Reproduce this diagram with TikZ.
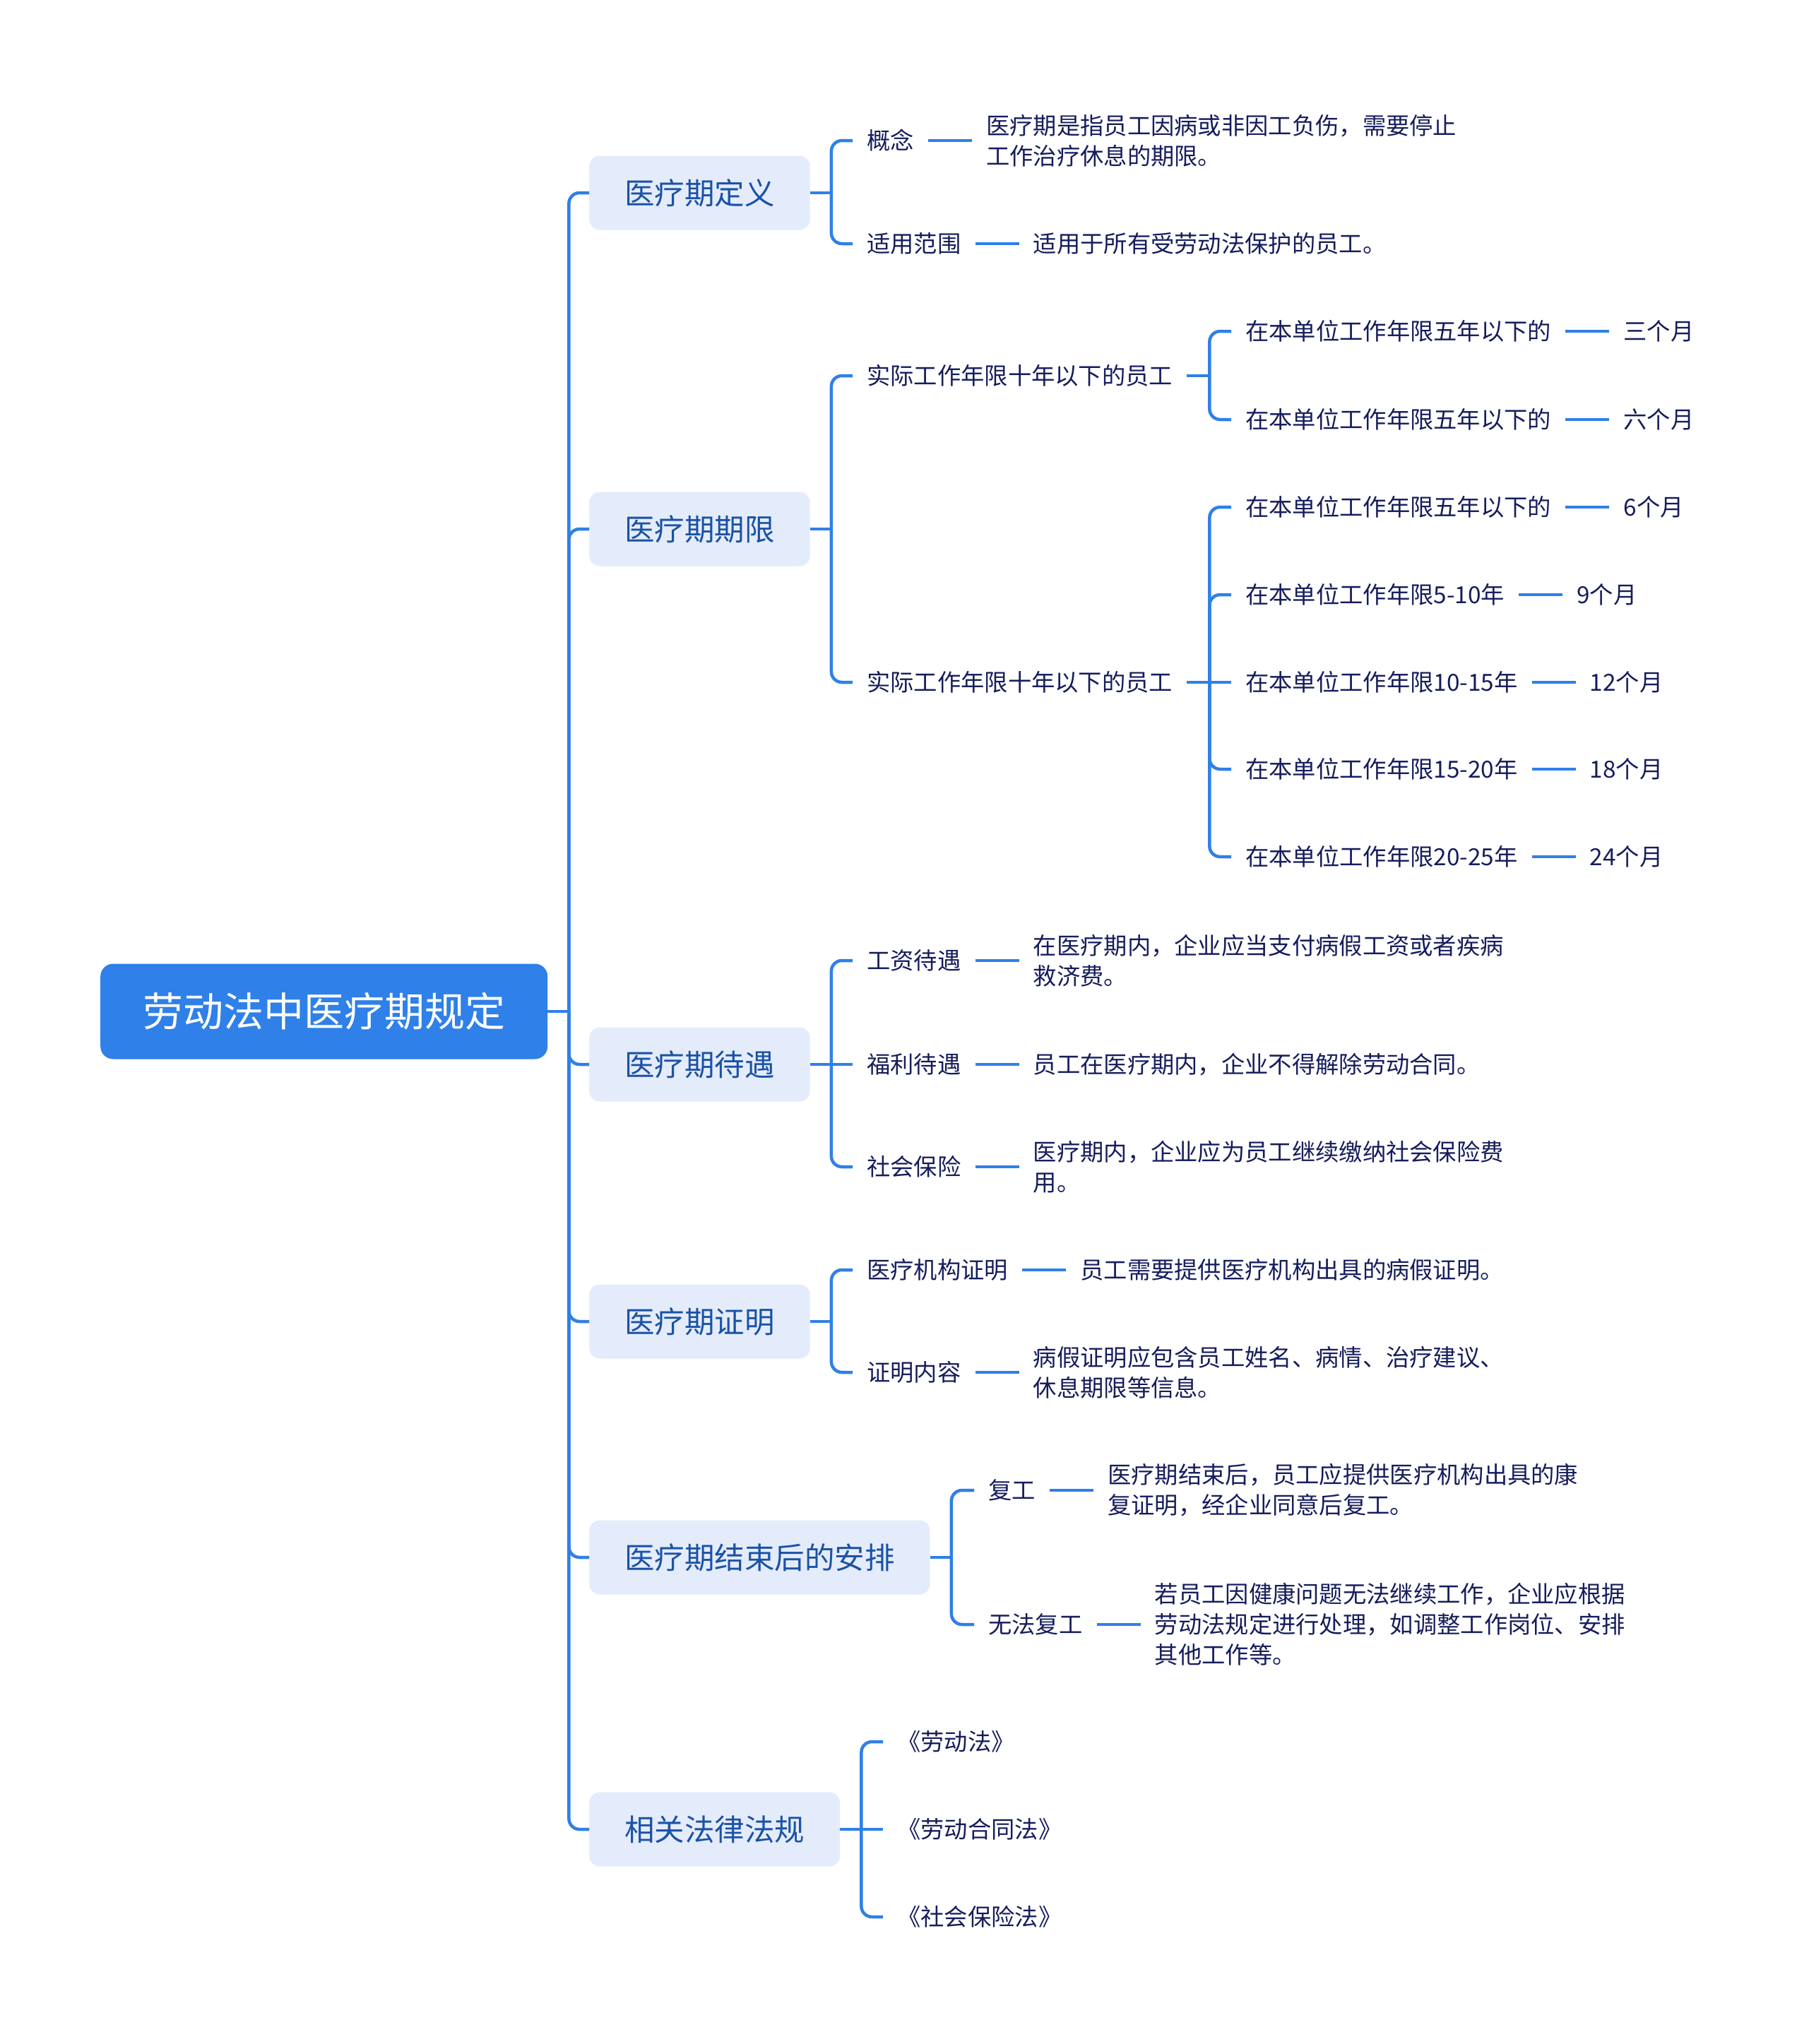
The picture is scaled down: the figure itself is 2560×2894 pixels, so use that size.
\documentclass[tikz,border=0pt]{standalone}
\usepackage{fontspec}
\setmainfont{Noto Sans CJK SC}
\usetikzlibrary{positioning}
\definecolor{rootblue}{HTML}{2F80E8}
\definecolor{topicfill}{HTML}{E4ECFC}
\definecolor{topictext}{HTML}{1B52A6}
\definecolor{itemtext}{HTML}{161D5C}

\begin{document}
\begin{tikzpicture}[x=1pt,y=-1pt,node distance=62pt,
  root/.style={anchor=west,fill=rootblue,text=white,rounded corners=18pt,minimum height=135pt,inner xsep=60pt,inner ysep=0pt,font=\fontsize{57}{68}\selectfont},
  topic/.style={anchor=west,fill=topicfill,text=topictext,rounded corners=15pt,minimum height=105pt,inner xsep=50pt,inner ysep=0pt,font=\fontsize{42.5}{51}\selectfont},
  item/.style={anchor=west,text=itemtext,align=left,inner xsep=20pt,inner ysep=2pt,font=\fontsize{33.3}{43}\selectfont},
  branch/.style={draw=rootblue,line width=4.5pt,rounded corners=15pt}]
\fill[white] (0,0) rectangle (2560,2894);
\node[root] (law) at (142,1432) {劳动法中医疗期规定};
\node[topic] (def) at (834,273) {医疗期定义};
\node[topic] (term) at (834,749) {医疗期期限};
\node[topic] (pay) at (834,1507) {医疗期待遇};
\node[topic] (cert) at (834,1871) {医疗期证明};
\node[topic] (after) at (834,2205) {医疗期结束后的安排};
\node[topic] (laws) at (834,2590) {相关法律法规};
% definition
\node[item] (concept) at (1207,199) {概念};
\node[item,right=of concept] (conceptTxt) {医疗期是指员工因病或非因工负伤，需要停止\\工作治疗休息的期限。};
\node[item] (scope) at (1207,345) {适用范围};
\node[item,right=of scope] (scopeTxt) {适用于所有受劳动法保护的员工。};
% duration
\node[item] (tA) at (1207,532) {实际工作年限十年以下的员工};
\node[item] (tA1) at (1743,469) {在本单位工作年限五年以下的};
\node[item,right=of tA1] (tA1m) {三个月};
\node[item] (tA2) at (1743,594) {在本单位工作年限五年以下的};
\node[item,right=of tA2] (tA2m) {六个月};
\node[item] (tB) at (1207,966) {实际工作年限十年以下的员工};
\node[item] (tB1) at (1743,718) {在本单位工作年限五年以下的};
\node[item,right=of tB1] (tB1m) {6个月};
\node[item] (tB2) at (1743,842) {在本单位工作年限5-10年};
\node[item,right=of tB2] (tB2m) {9个月};
\node[item] (tB3) at (1743,966) {在本单位工作年限10-15年};
\node[item,right=of tB3] (tB3m) {12个月};
\node[item] (tB4) at (1743,1089) {在本单位工作年限15-20年};
\node[item,right=of tB4] (tB4m) {18个月};
\node[item] (tB5) at (1743,1213) {在本单位工作年限20-25年};
\node[item,right=of tB5] (tB5m) {24个月};
% treatment
\node[item] (wage) at (1207,1360) {工资待遇};
\node[item,right=of wage] (wageTxt) {在医疗期内，企业应当支付病假工资或者疾病\\救济费。};
\node[item] (welfare) at (1207,1507) {福利待遇};
\node[item,right=of welfare] (welfareTxt) {员工在医疗期内，企业不得解除劳动合同。};
\node[item] (insur) at (1207,1652) {社会保险};
\node[item,right=of insur] (insurTxt) {医疗期内，企业应为员工继续缴纳社会保险费\\用。};
% certificate
\node[item] (inst) at (1207,1798) {医疗机构证明};
\node[item,right=of inst] (instTxt) {员工需要提供医疗机构出具的病假证明。};
\node[item] (content) at (1207,1943) {证明内容};
\node[item,right=of content] (contentTxt) {病假证明应包含员工姓名、病情、治疗建议、\\休息期限等信息。};
% after
\node[item] (back) at (1379,2110) {复工};
\node[item,right=of back] (backTxt) {医疗期结束后，员工应提供医疗机构出具的康\\复证明，经企业同意后复工。};
\node[item] (noback) at (1379,2300) {无法复工};
\node[item,right=of noback] (nobackTxt) {若员工因健康问题无法继续工作，企业应根据\\劳动法规定进行处理，如调整工作岗位、安排\\其他工作等。};
% laws
\node[item] (lawA) at (1250,2466) {《劳动法》};
\node[item] (lawB) at (1250,2590) {《劳动合同法》};
\node[item] (lawC) at (1250,2714) {《社会保险法》};
% stubs
\draw[branch] (law.east) -- ++(30,0);
\draw[branch] (def.east) -- ++(30,0);
\draw[branch] (term.east) -- ++(30,0);
\draw[branch] (tA.east) -- ++(32,0);
\draw[branch] (tB.east) -- (tB3.west);
\draw[branch] (pay.east) -- (welfare.west);
\draw[branch] (cert.east) -- ++(30,0);
\draw[branch] (after.east) -- ++(30,0);
\draw[branch] (laws.east) -- (lawB.west);
% branches
\draw[branch] (law.east) ++(30,0) |- (def.west);
\draw[branch] (law.east) ++(30,0) |- (term.west);
\draw[branch] (law.east) ++(30,0) |- (pay.west);
\draw[branch] (law.east) ++(30,0) |- (cert.west);
\draw[branch] (law.east) ++(30,0) |- (after.west);
\draw[branch] (law.east) ++(30,0) |- (laws.west);
\draw[branch] (def.east) ++(30,0) |- (concept.west);
\draw[branch] (def.east) ++(30,0) |- (scope.west);
\draw[branch] (term.east) ++(30,0) |- (tA.west);
\draw[branch] (term.east) ++(30,0) |- (tB.west);
\draw[branch] (tA.east) ++(32,0) |- (tA1.west);
\draw[branch] (tA.east) ++(32,0) |- (tA2.west);
\draw[branch] (tB.east) ++(32,0) |- (tB1.west);
\draw[branch] (tB.east) ++(32,0) |- (tB2.west);
\draw[branch] (tB.east) ++(32,0) |- (tB4.west);
\draw[branch] (tB.east) ++(32,0) |- (tB5.west);
\draw[branch] (pay.east) ++(30,0) |- (wage.west);
\draw[branch] (pay.east) ++(30,0) |- (insur.west);
\draw[branch] (cert.east) ++(30,0) |- (inst.west);
\draw[branch] (cert.east) ++(30,0) |- (content.west);
\draw[branch] (after.east) ++(30,0) |- (back.west);
\draw[branch] (after.east) ++(30,0) |- (noback.west);
\draw[branch] (laws.east) ++(30,0) |- (lawA.west);
\draw[branch] (laws.east) ++(30,0) |- (lawC.west);
% leaves
\draw[branch] (concept) -- (conceptTxt);
\draw[branch] (scope) -- (scopeTxt);
\draw[branch] (tA1) -- (tA1m);
\draw[branch] (tA2) -- (tA2m);
\draw[branch] (tB1) -- (tB1m);
\draw[branch] (tB2) -- (tB2m);
\draw[branch] (tB3) -- (tB3m);
\draw[branch] (tB4) -- (tB4m);
\draw[branch] (tB5) -- (tB5m);
\draw[branch] (wage) -- (wageTxt);
\draw[branch] (welfare) -- (welfareTxt);
\draw[branch] (insur) -- (insurTxt);
\draw[branch] (inst) -- (instTxt);
\draw[branch] (content) -- (contentTxt);
\draw[branch] (back) -- (backTxt);
\draw[branch] (noback) -- (nobackTxt);
\end{tikzpicture}
\end{document}
